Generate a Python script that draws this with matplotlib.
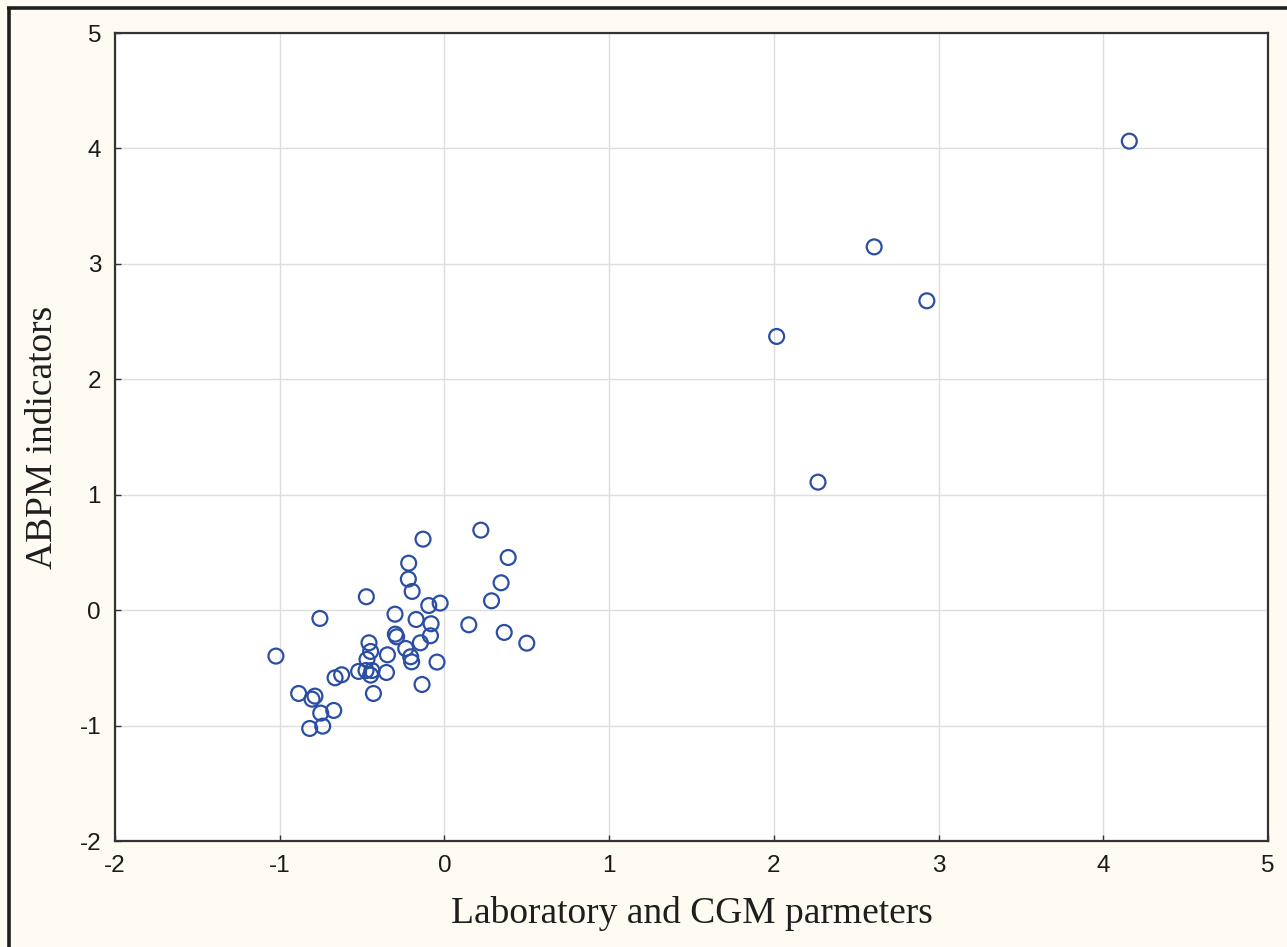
import matplotlib
matplotlib.use("Agg")
import matplotlib.pyplot as plt
from matplotlib.lines import Line2D

x_vals = [0.221, -0.130, 0.387, -0.217, 0.344, -0.219, -0.196, -0.474, 0.286, -0.095,
          -0.026, -0.300, -0.756, -0.172, 0.148, -0.081, 0.363, -0.298, -0.290, -0.085,
          0.500, -0.458, -0.146, -0.235, -0.448, -0.346, -1.023, -0.205, -0.199, -0.470,
          -0.045, -0.521, -0.476, -0.440, -0.448, -0.352, -0.624, -0.664, -0.136, -0.431,
          -0.885, -0.786, -0.804, -0.672, -0.751, -0.818, -0.739,
          2.017, 2.268, 2.609, 2.929, 4.158]
y_vals = [0.693, 0.615, 0.456, 0.407, 0.237, 0.269, 0.162, 0.116, 0.081, 0.040,
          0.061, -0.035, -0.072, -0.081, -0.127, -0.118, -0.193, -0.208, -0.231, -0.222,
          -0.286, -0.283, -0.283, -0.332, -0.358, -0.387, -0.398, -0.404, -0.448, -0.427,
          -0.450, -0.531, -0.523, -0.523, -0.563, -0.540, -0.560, -0.586, -0.644, -0.722,
          -0.722, -0.745, -0.771, -0.869, -0.892, -1.025, -1.005,
          2.371, 1.109, 3.147, 2.680, 4.063]
ticks = [-2, -1, 0, 1, 2, 3, 4, 5]
tick_labels = ["-2", "-1", "0", "1", "2", "3", "4", "5"]
x_label = "Laboratory and CGM parmeters"
y_label = "ABPM indicators"

W, H = 1287, 947
fig = plt.figure(figsize=(W / 100, H / 100), dpi=100)
fig.patch.set_facecolor("#fffbf2")

# dark frame lines on left and top edges
fig.add_artist(Line2D([8.5 / W, 8.5 / W], [0, 1 - 7 / H], transform=fig.transFigure,
                      color="#1e1e1e", lw=2.6, solid_capstyle="butt"))
fig.add_artist(Line2D([7 / W, 1], [1 - 8.5 / H, 1 - 8.5 / H], transform=fig.transFigure,
                      color="#1e1e1e", lw=2.6, solid_capstyle="butt"))

ax = fig.add_axes([115 / W, (H - 841) / H, (1268 - 115) / W, (841 - 33) / H])
ax.set_facecolor("white")
ax.set_xlim(-2, 5)
ax.set_ylim(-2, 5)
ax.set_xticks(ticks)
ax.set_xticklabels(tick_labels)
ax.set_yticks(ticks)
ax.set_yticklabels(tick_labels)
ax.grid(True, color="#dedede", lw=1.0)
ax.set_axisbelow(True)
for s in ax.spines.values():
    s.set_color("#333333")
    s.set_linewidth(1.6)
ax.tick_params(direction="in", length=4.5, width=1, color="#333333",
               labelsize=17.5, labelcolor="#1a1a1a", pad=10)
for lab in ax.get_xticklabels() + ax.get_yticklabels():
    lab.set_family("Liberation Sans")

ax.scatter(x_vals, y_vals, s=115, facecolors="none", edgecolors="#2a4ea3",
           linewidths=1.6, zorder=3, clip_on=False)

ax.set_xlabel(x_label, family="Liberation Serif", fontsize=27, color="#1e1e1e", labelpad=14)
ax.set_ylabel(y_label, family="Liberation Serif", fontsize=27, color="#1e1e1e", labelpad=14)

fig.savefig("out.png", dpi=100, facecolor=fig.get_facecolor())
